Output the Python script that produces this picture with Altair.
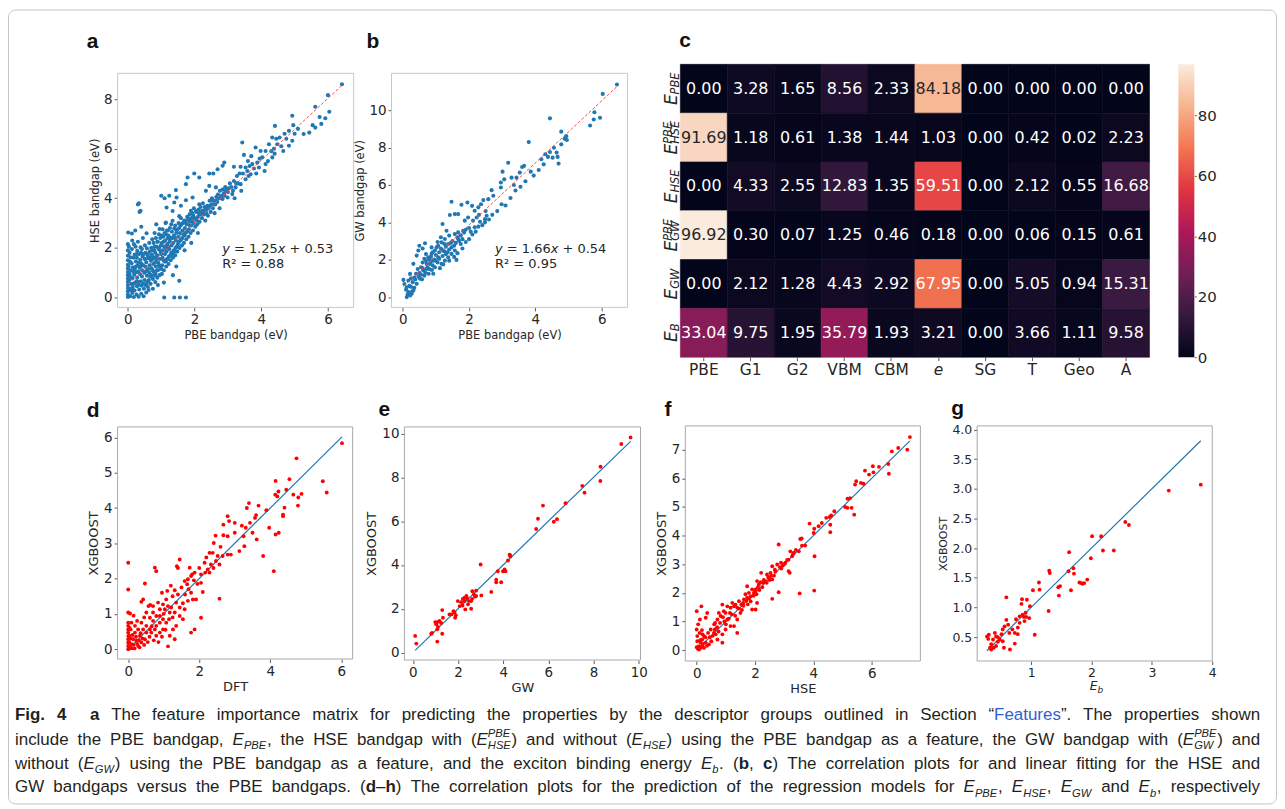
import altair as alt
import pandas as pd

W, H = 1274, 799

# ---------------- data ----------------
A_PTS = [
 (0.0,0.02),(0.0,0.12),(0.0,0.25),(0.0,0.38),(0.0,0.5),(0.0,0.63),(0.0,0.76),(0.0,0.9),(0.0,1.03),(0.0,1.17),
 (0.0,1.32),(0.0,1.5),(0.0,1.68),(0.0,1.9),(0.0,2.15),(0.01,2.62),(0.03,2.05),(0.02,1.25),(0.04,0.7),
 (0.07,0.05),(0.08,0.3),(0.1,0.55),(0.06,0.85),(0.09,1.1),(0.11,1.38),(0.08,1.62),(0.12,1.95),(0.13,0.18),(0.14,0.78),
 (0.15,1.22),(0.13,2.3),(0.12,2.58),(0.14,0.42),
 (0.18,0.02),(0.2,0.28),(0.22,0.6),(0.19,0.92),(0.21,1.15),(0.24,1.45),(0.2,1.72),(0.23,2.05),(0.26,0.12),(0.27,0.45),
 (0.28,0.8),(0.25,1.02),(0.29,1.3),(0.27,1.6),(0.28,1.88),(0.3,2.25),(0.22,2.7),(0.3,3.75),(0.33,3.8),(0.35,3.45),(0.38,3.5),
 (0.32,0.03),(0.34,0.32),(0.33,0.62),(0.36,0.95),(0.35,1.2),(0.37,1.52),(0.34,1.75),(0.38,2.02),(0.4,0.15),(0.41,0.48),
 (0.42,0.85),(0.43,1.1),(0.4,1.38),(0.44,1.65),(0.42,1.95),(0.45,2.4),(0.4,2.85),
 (0.47,0.05),(0.48,0.35),(0.5,0.7),(0.49,1.0),(0.52,1.25),(0.5,1.55),(0.53,1.8),(0.51,2.1),(0.55,0.2),(0.56,0.55),
 (0.57,0.88),(0.58,1.12),(0.55,1.42),(0.59,1.7),(0.57,1.98),(0.56,2.59),(0.6,0.42),
 (0.62,0.3),(0.63,0.7),(0.64,1.0),(0.65,1.3),(0.62,1.58),(0.66,1.85),(0.64,2.2),(0.68,0.55),(0.7,0.9),(0.71,1.18),
 (0.69,1.48),(0.72,1.72),(0.7,2.0),(0.73,2.35),(0.75,0.75),(0.77,1.05),(0.76,1.35),(0.78,1.62),(0.79,1.9),(0.77,2.2),
 (0.75,0.35),(0.8,2.6),
 (0.82,0.62),(0.83,0.95),(0.84,1.25),(0.85,1.52),(0.82,1.8),(0.86,2.05),(0.84,2.4),(0.88,0.8),(0.9,1.1),(0.91,1.4),
 (0.89,1.7),(0.92,1.95),(0.9,2.25),(0.93,2.55),(0.95,0.9),(0.97,1.22),(0.96,1.55),(0.98,1.85),(0.99,2.1),(0.97,2.4),
 (0.85,2.95),(0.95,2.76),(0.9,0.5),
 (1.02,0.95),(1.03,1.3),(1.04,1.6),(1.05,1.9),(1.02,2.2),(1.06,2.45),(1.04,2.75),(1.08,1.1),(1.1,1.45),(1.11,1.75),
 (1.09,2.05),(1.12,2.3),(1.1,2.6),(1.13,3.0),(1.15,1.25),(1.17,1.55),(1.16,1.85),(1.18,2.15),(1.19,2.4),(1.17,2.7),
 (1.0,4.1),(1.1,4.0),(1.14,3.02),(1.16,3.63),(1.09,0.0),(1.08,0.6),
 (1.22,1.35),(1.23,1.65),(1.24,1.95),(1.25,2.25),(1.22,2.5),(1.26,2.8),(1.28,1.5),(1.3,1.8),(1.31,2.1),(1.29,2.4),
 (1.32,2.65),(1.3,2.95),(1.35,1.6),(1.37,1.9),(1.36,2.2),(1.38,2.5),(1.39,2.78),(1.34,3.09),(1.34,3.49),(1.24,4.1),
 (1.39,3.83),(1.39,0.0),(1.35,0.9),
 (1.42,1.7),(1.43,2.0),(1.44,2.3),(1.45,2.6),(1.42,2.9),(1.48,1.85),(1.5,2.15),(1.51,2.45),(1.49,2.75),(1.52,3.0),
 (1.55,2.0),(1.57,2.3),(1.56,2.6),(1.58,2.9),(1.59,3.2),(1.54,3.28),(1.44,4.33),(1.46,4.03),(1.59,3.7),(1.54,0.67),
 (1.56,0.0),(1.45,1.25),
 (1.62,2.1),(1.63,2.4),(1.64,2.7),(1.65,3.0),(1.68,2.2),(1.7,2.5),(1.71,2.8),(1.69,3.1),(1.75,2.35),(1.77,2.65),
 (1.76,2.95),(1.78,3.25),(1.74,0.0),(1.74,4.57),(1.79,4.84),(1.74,3.92),(1.7,1.9),
 (1.82,2.45),(1.83,2.75),(1.84,3.05),(1.85,3.35),(1.88,2.6),(1.9,2.9),(1.91,3.2),(1.89,3.5),(1.95,2.7),(1.97,3.0),
 (1.96,3.3),(1.98,3.6),(1.84,3.16),(1.94,4.03),(1.99,5.0),(1.9,2.2),
 (2.02,2.85),(2.04,3.15),(2.05,3.45),(2.08,2.95),(2.1,3.25),(2.12,3.55),(2.15,3.05),(2.17,3.35),(2.18,3.65),(2.22,3.2),
 (2.24,3.5),(2.25,3.8),(2.28,3.35),(2.3,3.65),(2.04,3.49),(2.14,4.84),(2.14,3.76),(2.24,3.43),(2.34,4.3),(2.34,3.63),(2.1,2.6),
 (2.32,3.1),(2.35,3.4),(2.38,3.7),(2.4,3.3),(2.42,3.6),(2.45,3.9),(2.48,3.45),(2.5,3.75),(2.52,4.0),(2.55,3.6),
 (2.58,3.9),(2.44,4.5),(2.44,5.0),(2.56,5.0),(2.54,3.9),(2.6,3.4),
 (2.62,3.75),(2.65,4.05),(2.68,3.85),(2.7,4.15),(2.74,4.0),(2.76,4.3),(2.8,4.1),(2.84,4.35),(2.88,4.2),(2.92,4.45),
 (2.96,4.3),(2.64,4.44),(2.69,5.17),(2.84,5.31),(2.89,5.44),(2.84,3.97),(2.94,4.3),(2.99,4.03),(2.75,3.6),
 (3.02,4.4),(3.06,4.6),(3.1,4.45),(3.13,4.17),(3.18,4.7),(3.23,4.44),(3.18,5.27),(3.27,4.9),(3.3,4.6),(3.38,4.57),
 (3.38,5.27),(3.43,6.25),(3.48,5.75),(3.53,4.77),(3.53,5.24),(3.35,5.0),(3.45,5.0),(3.2,4.0),(3.4,4.3),
 (3.58,5.1),(3.62,4.9),(3.68,4.97),(3.73,5.38),(3.78,5.2),(3.83,6.05),(3.88,5.44),(3.93,5.24),(3.98,5.91),(3.6,5.5),
 (3.7,5.7),(3.85,5.0),(3.95,5.6),(3.65,5.3),
 (4.03,5.65),(4.13,5.38),(4.13,5.91),(4.23,6.18),(4.33,5.65),(4.33,6.45),(4.41,6.92),(4.48,6.18),(4.1,5.1),(4.2,5.5),
 (4.3,5.9),(4.4,5.8),(4.45,6.4),(4.38,6.0),
 (4.55,6.45),(4.66,5.91),(4.83,6.12),(4.83,6.72),(4.93,6.32),(4.93,7.33),(4.96,6.95),(5.27,6.59),(5.44,6.65),(4.6,6.1),
 (4.75,6.4),(5.0,6.6),(5.1,6.8),(4.7,6.6),
 (5.54,6.95),(5.62,6.85),(5.62,7.69),(5.75,7.28),(5.92,7.23),(6.04,7.49),(6.0,8.16),(6.42,8.6),(5.8,7.0),
 (0.05,0.35),(0.05,0.95),(0.06,1.45),(0.05,1.8),(0.16,0.3),(0.17,0.55),(0.16,1.05),(0.17,1.6),(0.18,2.15),(0.26,0.65),
 (0.24,1.25),(0.26,1.75),(0.31,0.5),(0.31,1.05),(0.32,1.4),(0.39,0.65),(0.38,1.25),(0.39,1.8),(0.46,0.55),(0.46,1.3),
 (0.47,1.75),(0.53,0.5),(0.54,1.05),(0.53,1.55),(0.6,0.65),(0.61,1.15),(0.6,1.75),(0.67,0.85),(0.67,1.6),(0.74,1.1),
 (0.73,1.55),(0.74,1.9),(0.8,0.9),(0.81,1.4),(0.8,2.05),(0.87,1.1),(0.87,1.65),(0.88,2.25),(0.94,1.3),(0.94,2.0),
 (1.0,1.15),(1.0,1.75),(1.01,2.5),(1.07,1.5),(1.07,2.25),(1.14,1.45),(1.14,2.0),(1.14,2.55),(1.2,1.55),(1.21,2.05),
 (1.2,2.7),(1.27,1.7),(1.27,2.35),(1.33,1.75),(1.33,2.4),(1.4,1.85),(1.41,2.4),(1.47,2.05),(1.46,2.7),(1.53,2.25),
 (1.54,2.8),(1.6,2.35),(1.6,2.95),(1.66,2.55),(1.73,2.6),(1.72,3.05),(1.8,2.7),(1.8,3.15),(1.86,2.9),(1.93,3.05),
 (1.93,3.4),(2.0,3.2),(2.07,3.1),(2.13,3.4),(2.2,3.45),(2.27,3.5),(2.36,3.55),(2.46,3.7),(2.56,3.75),(2.66,3.9),
 (2.78,4.0),(2.9,4.1),(3.0,4.25),(3.15,4.3),(3.25,4.6),
]

B_PTS = [
 (6.46,11.37),(6.03,10.87),(5.78,9.89),(5.76,9.5),(5.95,9.59),(5.65,9.18),(4.44,9.56),(4.78,8.85),(4.88,8.47),(4.95,8.4),
 (4.93,8.61),(4.78,8.17),(4.56,7.99),(4.44,7.76),(4.3,7.64),(4.38,7.5),(4.52,7.46),(4.64,7.73),(4.67,7.5),(4.18,7.37),
 (4.7,7.14),(3.8,8.29),(3.86,6.71),(3.66,7.02),(3.6,6.96),(3.53,6.66),(3.43,6.39),(3.18,7.19),(3.01,6.71),(3.28,6.39),
 (3.06,6.3),(2.96,6.13),(2.96,5.86),(2.68,5.72),(2.73,5.42),(2.98,4.97),(2.58,5.24),(2.43,5.19),(2.36,4.97),(2.28,4.8),
 (2.17,4.62),(1.95,5.06),(2.09,4.88),(1.77,4.94),(1.47,5.1),(1.67,4.44),(1.57,4.44),(1.42,4.39),(1.87,4.09),(1.97,4.26),
 (2.12,4.09),(2.23,4.26),(2.33,4.03),(2.48,4.0),(2.48,4.17),(2.53,4.35),(2.17,3.73),(2.28,3.77),(1.82,3.55),(1.67,3.46),
 (1.57,3.37),(1.2,3.91),(1.32,3.55),(1.4,3.29),(1.27,3.11),(1.17,2.93),(1.07,2.75),(1.37,2.84),(1.47,2.66),(1.57,2.49),
 (1.62,1.99),(1.67,3.11),(1.75,2.84),(0.67,2.88),(0.47,2.49),(0.42,2.22),(0.32,1.78),(0.22,1.24),(0.17,0.89),(0.02,0.92),
 (0.12,0.53),(0.17,0.27),(0.22,0.09),(0.27,0.18),(0.12,0.0),(0.32,0.36),(0.42,0.71),(0.52,0.98),(0.62,1.42),(0.72,1.78),
 (0.77,2.13),(0.87,2.31),(0.97,2.49),(1.07,2.13),(0.92,1.95),(0.82,1.78),(0.72,1.51),(0.65,1.15),(0.97,1.6),(1.17,1.78),
 (1.27,1.95),(1.37,2.13),(1.47,2.31),(1.02,2.66),(0.87,2.66),
 (0.25,0.55),(0.3,0.8),(0.35,1.05),(0.4,1.25),(0.45,1.5),(0.5,1.3),(0.55,1.6),(0.6,1.85),(0.65,2.05),(0.7,2.3),
 (0.75,1.6),(0.8,2.0),(0.85,2.15),(0.9,2.4),(0.95,2.0),(1.0,2.25),(1.05,1.85),(1.1,2.4),(1.15,2.6),(1.2,2.2),
 (1.25,2.45),(1.3,2.7),(1.35,2.4),(1.4,2.55),(1.45,2.9),(1.5,3.0),(1.55,2.75),(1.6,2.9),(1.65,3.2),(1.7,3.0),
 (1.75,3.3),(1.8,3.1),(1.85,3.45),(1.9,3.6),(2.0,3.7),(2.05,3.5),(0.55,1.2),(0.6,1.55),(0.7,1.95),(0.8,1.5),
 (0.85,1.9),(0.9,1.7),(1.0,1.95),(1.1,2.05),(1.2,2.5),(1.3,2.3),(0.38,0.95),(0.48,1.1),(0.58,0.95),(0.68,1.3),
 (0.78,1.25),(0.88,1.45),(1.05,2.95),(1.15,3.2),(1.25,2.85),(0.5,2.75),(0.6,2.6),(0.35,0.5),(0.28,0.3),(0.2,0.6),
 (0.1,0.4),(0.15,0.15),(0.05,0.7),(0.25,1.0),(0.92,1.25),(1.12,1.55),(1.22,1.75),(1.4,1.95),(1.55,2.15),(1.65,2.35),
 (1.8,2.6),(1.9,2.95),(2.0,3.1),(2.1,3.35),(2.2,3.5),(2.4,3.85),(2.6,4.15),(2.7,4.4),(2.85,4.6),(3.1,4.9),
 (3.25,5.3),(3.4,5.7),(3.55,5.9),(3.7,6.2),(3.95,6.5),(4.1,6.8),(4.25,7.1),(3.35,6.0),(2.5,4.6),(2.3,4.4),
]

D_PTS = [
 (6.02,5.84),(4.74,5.41),(4.15,4.77),(4.54,4.82),(4.45,4.52),(4.23,4.47),(4.14,4.38),(4.2,4.33),(4.65,4.38),(4.88,4.4),
 (4.79,4.3),(4.78,4.07),(5.48,4.76),(5.59,4.44),(4.4,4.01),(4.36,3.81),(4.36,3.77),(3.89,3.94),(3.97,3.44),(4.24,3.3),
 (4.15,3.25),(4.1,2.21),(3.8,2.64),(3.67,4.07),(3.4,4.14),(3.34,4.0),(3.43,3.58),(3.31,3.44),(3.57,3.72),(3.62,3.11),
 (3.25,3.2),(3.27,2.92),(3.13,2.78),(2.8,3.77),(2.84,3.63),(2.68,3.53),(3.0,3.58),(2.8,3.2),(2.68,3.23),(2.46,3.22),
 (2.41,3.01),(2.29,2.73),(2.38,2.73),(2.52,2.64),(2.66,2.64),(2.8,2.68),(2.89,2.68),(2.57,2.4),(2.47,2.5),(2.33,2.4),
 (2.24,2.26),(2.17,2.17),(2.29,2.17),(2.15,2.45),(2.05,2.12),(2.05,1.88),(2.1,1.62),(2.05,0.89),(2.57,1.43),(1.87,2.17),
 (1.8,2.12),(1.73,2.31),(1.77,2.07),(1.68,1.98),(1.59,1.93),(1.66,1.84),(1.77,1.6),(1.82,1.41),(1.91,1.41),(1.68,1.37),
 (1.54,1.3),(1.4,1.55),(1.31,1.67),(1.45,2.54),(1.37,2.35),(0.75,2.31),(0.79,2.21),(0.47,1.86),(0.0,2.45),(0.0,1.69),
 (0.0,1.04),(0.05,1.01),(0.37,1.34),(0.42,1.41),(0.51,1.04),(0.61,0.89),(0.7,1.22),(0.84,1.32),(0.89,1.13),(0.98,1.27),
 (1.07,1.41),(1.03,1.13),(1.17,1.04),(1.12,1.22),(1.21,1.18),(1.31,1.04),(1.35,1.32),(1.45,1.18),(1.59,1.13),(1.45,0.94),
 (1.54,0.85),(1.35,0.66),(1.26,0.56),(1.17,0.38),(1.12,0.08),(1.31,0.28),(1.87,0.56),(1.77,0.47),(0.98,0.56),(0.89,0.47),
 (0.79,0.38),(0.79,0.66),(0.7,0.8),(0.61,0.56),(0.51,0.47),(0.47,0.28),(0.37,0.19),(0.28,0.09),(0.23,0.24),(0.33,0.38),
 (0.42,0.56),(0.19,0.47),(0.14,0.28),(0.09,0.14),(0.05,0.05),(0.0,0.47),(0.0,0.28),(0.0,0.66),(0.0,0.09),(0.03,0.38),
 (0.07,0.56),(0.09,0.75),(0.19,0.66),(0.28,0.56),(0.37,0.75),(0.51,0.66),(0.65,0.47),(0.75,0.56),(0.89,0.75),(0.98,0.85),
 (1.07,0.75),(0.89,0.94),(0.79,0.94),(0.7,1.04),
 (0.0,0.0),(0.0,0.18),(0.0,0.37),(0.0,0.56),(0.0,0.75),(0.02,0.02),(0.03,0.2),(0.04,0.6),(0.06,0.3),(0.1,0.02),
 (0.12,0.4),(0.15,0.12),(0.18,0.02),(0.22,0.35),(0.25,0.15),(0.3,0.25),(0.32,0.05),(0.35,0.45),(0.4,0.3),(0.45,0.12),
 (0.55,0.2),(0.6,0.35),(0.66,0.65),(0.72,0.25),(0.85,0.2),(0.95,0.35),(1.0,1.0),(1.15,0.85),(1.25,0.9),(1.05,0.55),
 (0.57,1.22),(0.62,1.25),(0.25,0.8),(0.15,0.95),(0.45,0.9),
 (1.4,2.3),(1.5,1.75),(1.6,1.55),(1.25,1.5),(1.95,1.85),(2.0,2.3),(1.7,1.7),(1.85,1.95),(2.2,2.6),(2.4,2.3),
 (2.6,2.9),(3.0,3.3),(3.2,3.5),(3.5,3.3),(3.6,3.8),(1.2,1.8),(0.95,1.6),(1.1,1.65),
]

E_PTS = [
 (9.64,9.82),(9.23,9.52),(8.31,8.48),(8.30,7.83),(7.50,7.61),(7.60,7.30),(6.76,6.82),(5.76,6.71),(5.54,6.11),(5.46,5.64),
 (6.38,6.09),(6.24,5.97),(4.28,4.47),(4.32,4.39),(4.21,4.20),(4.06,3.79),(3.99,3.71),(4.10,3.71),(3.76,3.71),(3.69,3.33),
 (3.69,3.21),(3.91,3.21),(3.47,2.77),(3.00,4.02),(3.03,2.61),(2.80,2.83),(2.80,2.58),(2.70,2.65),(2.63,2.80),(2.58,2.35),
 (2.48,2.35),(2.58,2.00),(2.37,2.58),(2.29,2.50),(2.21,2.45),(2.29,2.35),(2.14,2.30),(2.07,2.12),(2.32,1.97),(2.44,2.20),
 (2.40,2.48),(1.99,2.35),(1.85,1.82),(1.87,1.59),(1.70,1.74),(1.80,1.89),(1.62,1.74),(1.30,1.94),(1.33,1.59),(1.18,1.44),
 (1.08,1.39),(0.99,1.39),(1.03,1.29),(1.11,1.17),(1.08,1.06),(0.81,0.86),(1.30,0.86),(1.08,0.50),(0.10,0.76),(0.15,0.41),
 (2.62,2.45),(2.75,2.55),(2.2,2.15),(1.9,1.7),(1.25,1.35),(0.85,0.9),(2.35,2.52),(4.3,4.45),
]

F_PTS = [
 (7.31,7.44),(7.22,7.0),(6.91,7.06),(6.69,6.94),(6.57,6.5),(6.59,6.16),(6.25,6.4),(6.04,6.42),(6.06,6.21),(5.91,6.13),
 (5.77,6.27),(5.72,5.81),(5.63,5.84),(5.47,5.9),(5.43,5.78),(5.26,5.31),(5.17,5.29),(5.09,5.0),(5.17,4.97),(5.31,4.97),
 (5.4,4.73),(4.72,4.85),(4.61,4.7),(4.56,4.65),(4.58,4.38),(4.58,4.12),(4.44,4.62),(4.29,4.44),(4.18,4.33),(4.01,4.09),
 (3.87,4.42),(4.03,4.24),(4.04,3.28),(4.03,2.08),(3.55,3.88),(3.72,3.65),(3.61,3.65),(3.5,3.45),(3.53,1.98),(3.33,3.4),
 (3.27,3.28),(3.21,3.45),(3.15,3.16),(3.19,2.7),(3.15,2.76),(3.04,3.05),(2.89,3.05),(2.81,3.69),(2.81,2.02),(2.76,2.99),
 (2.68,2.81),(2.59,2.93),(2.53,2.7),(2.59,2.47),(2.59,1.79),(2.47,2.52),(2.41,2.64),(2.36,2.41),(2.28,2.35),(2.21,2.7),
 (2.19,2.37),(2.13,2.29),(2.07,2.41),(2.02,2.12),(1.96,2.0),(1.9,2.12),(1.85,1.88),(1.79,2.0),(1.73,1.83),(1.67,1.95),
 (1.62,1.77),(1.59,1.65),(1.53,1.59),(1.45,1.71),(1.39,1.48),(1.33,1.59),(1.28,1.53),(1.22,1.65),(1.16,1.48),(1.05,1.53),
 (1.14,1.3),(0.99,1.3),(0.88,1.59),(0.93,1.36),(0.82,1.19),(0.71,1.07),(0.76,1.3),(0.63,0.95),(0.62,0.72),(0.59,0.6),
 (0.48,0.72),(0.39,0.6),(0.36,1.3),(0.31,1.13),(0.16,1.53),(0.11,1.07),(0.0,1.36),(0.0,0.72),(0.02,0.49),(0.08,0.14),
 (0.14,0.26),(0.19,0.37),(0.25,0.49),(0.31,0.26),(0.02,0.31),(0.08,0.02),(0.14,0.08),(0.19,0.14),(0.25,0.08),(0.42,0.2),
 (0.5,0.31),(0.71,0.37),(0.88,0.55),(0.99,0.72),(1.16,0.84),(1.39,1.07),(1.39,0.6),(1.28,0.84),(0.88,0.26),(1.05,1.07),
 (1.5,1.3),(1.73,2.23),(1.9,1.42),(2.02,1.42),(2.07,1.65),
 (1.6,1.55),(1.7,1.72),(1.75,1.6),(1.8,1.8),(1.85,1.7),(1.95,1.9),(2.0,2.05),(2.05,1.95),(2.1,2.2),(2.15,2.1),
 (2.25,2.2),(2.3,2.45),(2.4,2.35),(2.45,2.55),(2.5,2.45),(2.55,2.6),(2.65,2.6),(2.7,2.75),(2.85,2.9),(2.95,2.95),
 (3.1,3.15),(3.3,3.35),(3.4,3.5),(1.2,1.25),(1.1,1.1),(0.95,1.0),(0.8,0.95),(0.7,0.8),(0.6,0.9),(0.55,0.5),
 (0.3,0.45),(0.2,0.55),(0.1,0.6),(0.05,0.9),(0.12,0.35),(0.22,0.22),(0.35,0.15),(0.45,0.45),(0.65,0.55),(0.0,0.1),
 (0.04,0.05),(0.18,0.7),(1.32,1.2),(1.45,1.45),(1.55,1.4),(1.0,0.9),(0.9,1.15),(0.75,0.65),(3.6,3.9),(3.0,3.0),(2.9,2.85),
]

G_PTS = [
 (3.81,3.07),(3.28,2.97),(2.56,2.44),(2.62,2.39),(2.01,2.2),(2.16,2.2),(1.99,1.83),(2.19,1.96),(2.37,1.96),(1.63,1.93),
 (1.70,1.66),(1.71,1.57),(1.62,1.61),(1.30,1.62),(1.31,1.58),(1.80,1.42),(1.83,1.41),(1.88,1.41),(1.93,1.47),(1.66,1.29),
 (1.45,1.34),(1.48,1.36),(1.46,1.2),(1.13,1.42),(1.14,1.3),(1.03,1.29),(0.98,1.02),(0.85,1.14),(0.93,1.13),(0.84,1.06),
 (0.91,0.91),(0.86,0.88),(0.81,0.85),(0.92,0.84),(0.97,0.82),(0.89,0.77),(1.29,0.94),(1.06,0.54),(0.75,0.8),(0.81,0.74),
 (0.78,0.66),(0.59,1.17),(0.59,0.79),(0.62,0.71),(0.56,0.68),(0.53,0.63),(0.69,0.63),(0.73,0.57),(0.78,0.55),(0.64,0.57),
 (0.65,0.29),(0.73,0.39),(0.51,0.55),(0.48,0.46),(0.45,0.42),(0.42,0.51),(0.40,0.57),(0.37,0.46),(0.34,0.38),(0.42,0.35),
 (0.29,0.47),(0.27,0.51),(0.30,0.54),(0.32,0.32),(0.34,0.29),(0.38,0.32),(0.53,0.43),(0.55,0.32),(0.88,0.84),(0.45,0.5),
 (1.85,1.4),
]

FIT_A = (1.25, 0.53)
FIT_B = (1.66, 0.54)
R2_A = "0.88"
R2_B = "0.95"

HM_COLS = ["PBE", "G1", "G2", "VBM", "CBM", "e", "SG", "T", "Geo", "A"]
HM_SUB = ["PBE", "HSE", "HSE", "GW", "GW", "B"]
HM_SUP = ["", "PBE", "", "PBE", "", ""]
HM_VALS = [
    [0.00, 3.28, 1.65, 8.56, 2.33, 84.18, 0.00, 0.00, 0.00, 0.00],
    [91.69, 1.18, 0.61, 1.38, 1.44, 1.03, 0.00, 0.42, 0.02, 2.23],
    [0.00, 4.33, 2.55, 12.83, 1.35, 59.51, 0.00, 2.12, 0.55, 16.68],
    [96.92, 0.30, 0.07, 1.25, 0.46, 0.18, 0.00, 0.06, 0.15, 0.61],
    [0.00, 2.12, 1.28, 4.43, 2.92, 67.95, 0.00, 5.05, 0.94, 15.31],
    [33.04, 9.75, 1.95, 35.79, 1.93, 3.21, 0.00, 3.66, 1.11, 9.58],
]
CB_TICKS = [0, 20, 40, 60, 80]
ROCKET = ["#03051A", "#35193E", "#701F57", "#AD1759", "#E13342", "#F37651", "#F6B48F", "#FAEBDD"]

A_XT, A_YT = [0, 2, 4, 6], [0, 2, 4, 6, 8]
B_XT, B_YT = [0, 2, 4, 6], [0, 2, 4, 6, 8, 10]
D_XT, D_YT = [0, 2, 4, 6], [0, 1, 2, 3, 4, 5, 6]
E_XT, E_YT = [0, 2, 4, 6, 8, 10], [0, 2, 4, 6, 8, 10]
F_XT, F_YT = [0, 2, 4, 6], [0, 1, 2, 3, 4, 5, 6, 7]
G_XT, G_YT = [1, 2, 3, 4], [0.5, 1.0, 1.5, 2.0, 2.5, 3.0, 3.5, 4.0]

CAPTION = [
    [("b", "Fig. 4"), ("n", "  "), ("b", "a"),
     ("n", " The feature importance matrix for predicting the properties by the descriptor groups outlined in Section \u201c"),
     ("l", "Features"), ("n", "\u201d. The properties shown")],
    [("n", "include the PBE bandgap, "), ("E", "PBE", ""), ("n", ", the HSE bandgap with ("), ("E", "HSE", "PBE"),
     ("n", ") and without ("), ("E", "HSE", ""), ("n", ") using the PBE bandgap as a feature, the GW bandgap with ("),
     ("E", "GW", "PBE"), ("n", ") and")],
    [("n", "without ("), ("E", "GW", ""), ("n", ") using the PBE bandgap as a feature, and the exciton binding energy "),
     ("E", "b", ""), ("n", ". ("), ("b", "b"), ("n", ", "), ("b", "c"),
     ("n", ") The correlation plots for and linear fitting for the HSE and")],
    [("n", "GW bandgaps versus the PBE bandgaps. ("), ("b", "d"), ("n", "\u2013"), ("b", "h"),
     ("n", ") The correlation plots for the prediction of the regression models for "), ("E", "PBE", ""), ("n", ", "),
     ("E", "HSE", ""), ("n", ", "), ("E", "GW", ""), ("n", " and "), ("E", "b", ""), ("n", ", respectively")],
]

# ---------------- layout (pixels inside the view) ----------------
PANEL = {
    "a": {"px": (110, 347), "py": (299, 64), "xd": (-0.31, 6.77), "yd": (-0.40, 9.04)},
    "b": {"px": (385, 622), "py": (299, 64), "xd": (-0.34, 6.78), "yd": (-0.55, 11.97)},
    "d": {"px": (110, 346), "py": (652, 419), "xd": (-0.30, 6.32), "yd": (-0.28, 6.30)},
    "e": {"px": (398, 635), "py": (653, 419), "xd": (-0.375, 10.08), "yd": (-0.34, 10.3)},
    "f": {"px": (680, 916), "py": (654, 418), "xd": (-0.39, 7.67), "yd": (-0.38, 7.83)},
    "g": {"px": (973, 1209), "py": (654, 418), "xd": (0.107, 4.0), "yd": (0.097, 4.06)},
}
HM_X = (675, 1146)
HM_Y = (55, 349)
CB_X = (1175, 1191)
FONT = "DejaVu Sans"
SANS = "Liberation Sans"
INK = "#262626"


def lin(dom, rng):
    return alt.Scale(domain=list(dom), range=list(rng), nice=False, zero=False)


def xsc(p):
    return lin(PANEL[p]["xd"], PANEL[p]["px"])


def ysc(p):
    return lin(PANEL[p]["yd"], PANEL[p]["py"])


PXS = lin((0, W), (0, W))
PYS = lin((0, H), (0, H))


def ax_x(p, vals, title, lfs, tfs):
    return alt.Axis(orient="bottom", offset=PANEL[p]["py"][0] - H, values=vals, title=title,
                    labelFontSize=lfs, titleFontSize=tfs)


def ax_y(p, vals, title, lfs, tfs, fmt=None):
    kw = dict(orient="left", offset=-PANEL[p]["px"][0], values=vals, title=title,
              labelFontSize=lfs, titleFontSize=tfs)
    if fmt:
        kw["format"] = fmt
    return alt.Axis(**kw)


def scatter(p, pts, color, size, xv, yv, xt, yt, lfs, tfs, yfmt=None):
    df = pd.DataFrame(pts, columns=["x", "y"])
    return alt.Chart(df).mark_circle(size=size, color=color, opacity=1).encode(
        x=alt.X("x:Q", scale=xsc(p), axis=ax_x(p, xv, xt, lfs, tfs)),
        y=alt.Y("y:Q", scale=ysc(p), axis=ax_y(p, yv, yt, lfs, tfs, yfmt)),
    )


def box(p, color):
    d = PANEL[p]
    df = pd.DataFrame({"x0": [d["xd"][0]], "x1": [d["xd"][1]], "y0": [d["yd"][0]], "y1": [d["yd"][1]]})
    return alt.Chart(df).mark_rect(fillOpacity=0, stroke=color, strokeWidth=1).encode(
        x=alt.X("x0:Q", scale=xsc(p), axis=None), x2="x1:Q",
        y=alt.Y("y0:Q", scale=ysc(p), axis=None), y2="y1:Q",
    )


def line(p, xs_, ys_, color, width, dash=None):
    df = pd.DataFrame({"x": xs_, "y": ys_})
    kw = dict(color=color, strokeWidth=width)
    if dash:
        kw["strokeDash"] = dash
    return alt.Chart(df).mark_line(**kw).encode(
        x=alt.X("x:Q", scale=xsc(p), axis=None),
        y=alt.Y("y:Q", scale=ysc(p), axis=None),
    )


def ptext(rows, font, color, weight="normal", style="normal", align="left", baseline="alphabetic", angle=0):
    df = pd.DataFrame(rows, columns=["px", "py", "t", "s"])
    kw = dict(font=font, color=color, fontWeight=weight, fontStyle=style, align=align, baseline=baseline)
    if angle:
        kw["angle"] = angle
    return alt.Chart(df).mark_text(**kw).encode(
        x=alt.X("px:Q", scale=PXS, axis=None),
        y=alt.Y("py:Q", scale=PYS, axis=None),
        text="t:N",
        size=alt.Size("s:Q", scale=None, legend=None),
    )


# DejaVu Sans advance widths (em)
DV = {" ": 0.318, ".": 0.318, "=": 0.838, "+": 0.838, "x": 0.592, "y": 0.592, "E": 0.632, "P": 0.603,
      "B": 0.686, "H": 0.752, "S": 0.635, "G": 0.775, "W": 0.989, "b": 0.635}
for _c in "0123456789":
    DV[_c] = 0.636


def dvw(s, size):
    return sum(DV.get(c, 0.6) for c in s) * size


layers = []

# outer frame
layers.append(alt.Chart(pd.DataFrame({"k": [0]})).mark_rect(
    fillOpacity=0, stroke="#c4c4c4", strokeWidth=1, cornerRadius=7).encode(
    x=alt.value(0.5), x2=alt.value(W - 0.5), y=alt.value(0.5), y2=alt.value(797.5)))

# ---- panels a, b ----
for p, pts, xt_, yt_, xtitle, ytitle in [("a", A_PTS, A_XT, A_YT, "PBE bandgap (eV)", "HSE bandgap (eV)"),
                                         ("b", B_PTS, B_XT, B_YT, "PBE bandgap (eV)", "GW bandgap (eV)")]:
    layers.append(box(p, "#c8c8c8"))
    layers.append(scatter(p, pts, "#1f77b4", 17, xt_, yt_, xtitle, ytitle, 13.5, 11.5))
for p, pts, (m, c0) in [("a", A_PTS, FIT_A), ("b", B_PTS, FIT_B)]:
    xs_ = [min(q[0] for q in pts), max(q[0] for q in pts)]
    layers.append(line(p, xs_, [m * v + c0 for v in xs_], "#f05050", 1, [3, 2]))

# fit annotations
ann_norm, ann_ital = [], []
for (m, c0), r2, x0, yb in [(FIT_A, R2_A, 215, 244), (FIT_B, R2_B, 489, 244)]:
    fs = 13
    pieces = [("i", "y"), ("n", " = %.2f" % m), ("i", "x"), ("n", " + %.2f" % c0)]
    xcur = x0
    for st, s in pieces:
        lead = len(s) - len(s.lstrip(" "))
        xx = xcur + dvw(" " * lead, fs)
        (ann_ital if st == "i" else ann_norm).append((xx, yb, s.strip(), fs))
        xcur += dvw(s, fs)
    ann_norm.append((x0, yb + 15, "R\u00b2 = " + r2, fs))
layers.append(ptext(ann_norm, FONT, INK))
layers.append(ptext(ann_ital, FONT, INK, style="italic"))

# ---- panels d-g ----
for p, pts, xt_, yt_, xtitle, lfs, tfs, fmt in [
        ("d", D_PTS, D_XT, D_YT, "DFT", 13.5, 13, None),
        ("e", E_PTS, E_XT, E_YT, "GW", 13.5, 13, None),
        ("f", F_PTS, F_XT, F_YT, "HSE", 13.5, 13, None),
        ("g", G_PTS, G_XT, G_YT, None, 12.5, 11, ".1f")]:
    layers.append(box(p, "#a8a8a8"))
    lo = min(min(q[0] for q in pts), min(q[1] for q in pts))
    hi = max(q[0] for q in pts)
    layers.append(line(p, [lo, hi], [lo, hi], "#1f77b4", 1.2))
    layers.append(scatter(p, pts, "#ff0000", 15, xt_, yt_, xtitle, "XGBOOST", lfs, tfs, fmt))

# g x-axis title  E_b
gx = (PANEL["g"]["px"][0] + PANEL["g"]["px"][1]) / 2 - 5
layers.append(ptext([(gx, 683, "E", 12.5), (gx + dvw("E", 12.5), 686, "b", 9)], FONT, INK, style="italic"))

# ---- heatmap c ----
ROW_IDS = ["r%d" % i for i in range(len(HM_VALS))]
hm_rows = []
for i, rid in enumerate(ROW_IDS):
    for j, col in enumerate(HM_COLS):
        hm_rows.append({"r": rid, "c": col, "v": HM_VALS[i][j]})
hm_df = pd.DataFrame(hm_rows)
vmax = max(max(r) for r in HM_VALS)
hm_dom = [vmax * k / (len(ROCKET) - 1) for k in range(len(ROCKET))]
hmx = alt.Scale(domain=HM_COLS, range=list(HM_X), paddingInner=0, paddingOuter=0)
hmy = alt.Scale(domain=ROW_IDS, range=list(HM_Y), paddingInner=0, paddingOuter=0)
hm_color = alt.Scale(domain=hm_dom, range=ROCKET, interpolate="rgb")

layers.append(alt.Chart(hm_df).mark_rect(strokeWidth=0.6).encode(
    x=alt.X("c:N", scale=hmx, axis=alt.Axis(
        orient="bottom", offset=HM_Y[1] - H, title=None, labelAngle=0, labelFontSize=15.5,
        labelPadding=2, tickSize=3.5,
        labelFontStyle={"condition": {"test": "datum.value === 'e'", "value": "italic"}, "value": "normal"})),
    y=alt.Y("r:N", scale=hmy, axis=None),
    color=alt.Color("v:Q", scale=hm_color, legend=None),
    stroke=alt.Stroke("v:Q", scale=hm_color, legend=None),
))
layers.append(alt.Chart(hm_df).mark_text(font=FONT, fontSize=16, baseline="middle", align="center").encode(
    x=alt.X("c:N", scale=hmx, axis=None),
    y=alt.Y("r:N", scale=hmy, axis=None),
    text=alt.Text("v:Q", format=".2f"),
    color=alt.when(alt.datum.v > 75).then(alt.value(INK)).otherwise(alt.value("#ffffff")),
))

# row labels (rotated mathtext-like E with sub/superscripts)
cell_h = (HM_Y[1] - HM_Y[0]) / len(ROW_IDS)
rl_big, rl_small = [], []
E_FS, S_FS = 17, 11.5
for i in range(len(ROW_IDS)):
    cy = HM_Y[0] + (i + 0.5) * cell_h
    wE = dvw("E", E_FS)
    L = wE + max(dvw(HM_SUB[i], S_FS), dvw(HM_SUP[i], S_FS))
    rl_big.append((HM_X[0] - 3.5, cy + L / 2, "E", E_FS))
    rl_small.append((HM_X[0] - 1.5, cy + L / 2 - wE, HM_SUB[i], S_FS))
    if HM_SUP[i]:
        rl_small.append((HM_X[0] - 8, cy + L / 2 - wE, HM_SUP[i], S_FS))
layers.append(ptext(rl_big, FONT, INK, style="italic", angle=270))
layers.append(ptext(rl_small, FONT, INK, style="italic", angle=270))

# colorbar
cb_scale = lin((0, vmax), (HM_Y[1], HM_Y[0]))
grad = alt.LinearGradient(
    gradient="linear",
    stops=[alt.GradientStop(color=c, offset=k / (len(ROCKET) - 1)) for k, c in enumerate(ROCKET)],
    x1=0, x2=0, y1=1, y2=0)
layers.append(alt.Chart(pd.DataFrame({"lo": [0.0], "hi": [vmax]})).mark_rect(fill=grad).encode(
    x=alt.value(CB_X[0]), x2=alt.value(CB_X[1]),
    y=alt.Y("lo:Q", scale=cb_scale, axis=alt.Axis(
        orient="right", offset=CB_X[1] - W, values=CB_TICKS, title=None, labelFontSize=15,
        tickSize=2, labelPadding=1)),
    y2="hi:Q",
))

# panel letters
LETTERS = [("a", 79, 39), ("b", 360, 39), ("c", 674, 38), ("d", 79, 409), ("e", 372, 408), ("f", 659, 408), ("g", 947, 407)]
layers.append(ptext([(x, y, t, 21) for t, x, y in LETTERS], SANS, "#111111", weight="bold"))

# ---- caption (justified, Liberation Sans = Arial metrics) ----
AR = {" ": 278, ",": 278, ".": 278, "(": 333, ")": 333, "\u201c": 333, "\u201d": 333, "\u2013": 556, "-": 333}
for _c in "0123456789":
    AR[_c] = 556
AR.update(dict(A=667, B=667, C=722, D=722, E=667, F=611, G=778, H=722, I=278, J=500, K=667, L=556, M=833,
               N=722, O=778, P=667, Q=778, R=722, S=667, T=611, U=722, V=667, W=944, X=667, Y=667, Z=611))
AR.update(dict(a=556, b=556, c=500, d=556, e=556, f=278, g=556, h=556, i=222, j=222, k=500, l=222, m=833,
               n=556, o=556, p=556, q=556, r=333, s=500, t=278, u=556, v=500, w=722, x=500, y=500, z=500))
ARB = dict(AR)
ARB.update(dict(F=611, i=278, g=611, a=556, b=611, c=556, d=611, h=611))
SUBR = 0.66


def aw(s, bold=False):
    t = ARB if bold else AR
    return sum(t.get(ch, 556) for ch in s) / 1000.0


def build(runs):
    items = []
    for r in runs:
        if r[0] == "E":
            sub, sup = r[1], r[2]
            wE = aw("E")
            items.append({"k": "E", "sub": sub, "sup": sup, "wE": wE,
                          "w": wE + max(SUBR * aw(sub), SUBR * aw(sup) if sup else 0) + 0.04})
        else:
            st, txt = r
            word = ""
            for ch in txt:
                if ch == " ":
                    if word:
                        items.append({"k": "w", "st": st, "t": word, "w": aw(word, st == "b")})
                        word = ""
                    items.append({"k": "sp", "w": aw(" ")})
                else:
                    word += ch
            if word:
                items.append({"k": "w", "st": st, "t": word, "w": aw(word, st == "b")})
    return items


CAP_X0, CAP_X1 = 7, 1257
CAP_BASE = [713, 738, 762, 786]
built = [build(r) for r in CAPTION]
nat = [sum(it["w"] for it in b) for b in built]
cf = min(17.0, (CAP_X1 - CAP_X0) * 0.985 / max(nat))
cap = {"n": [], "b": [], "l": [], "i": []}
for b, n1, yb in zip(built, nat, CAP_BASE):
    nsp = sum(1 for it in b if it["k"] == "sp")
    extra = ((CAP_X1 - CAP_X0) - n1 * cf) / max(nsp, 1)
    xc = CAP_X0
    for it in b:
        if it["k"] == "sp":
            xc += it["w"] * cf + extra
        elif it["k"] == "w":
            cap[it["st"]].append((xc, yb, it["t"], cf))
            xc += it["w"] * cf
        else:
            cap["i"].append((xc, yb, "E", cf))
            xs_ = xc + it["wE"] * cf
            cap["i"].append((xs_, yb + 0.27 * cf, it["sub"], SUBR * cf))
            if it["sup"]:
                cap["i"].append((xs_, yb - 0.45 * cf, it["sup"], SUBR * cf))
            xc += it["w"] * cf
layers.append(ptext(cap["n"], SANS, "#231f20"))
layers.append(ptext(cap["b"], SANS, "#231f20", weight="bold"))
layers.append(ptext(cap["l"], SANS, "#2f5fd0"))
layers.append(ptext(cap["i"], SANS, "#231f20", style="italic"))

chart = alt.layer(*layers).resolve_scale(
    x="independent", y="independent", color="independent", size="independent", stroke="independent"
).properties(width=W, height=H, padding=0).configure_view(strokeWidth=0).configure_axis(
    labelFont=FONT, titleFont=FONT, labelColor=INK, titleColor=INK, tickColor="#333333",
    tickWidth=0.8, tickSize=3.5, domain=False, grid=False, labelFlush=False, labelOverlap=False,
    labelPadding=2, titlePadding=3, titleFontWeight="normal",
)

chart.save("out.html", embed_options={"renderer": "svg", "actions": False})
